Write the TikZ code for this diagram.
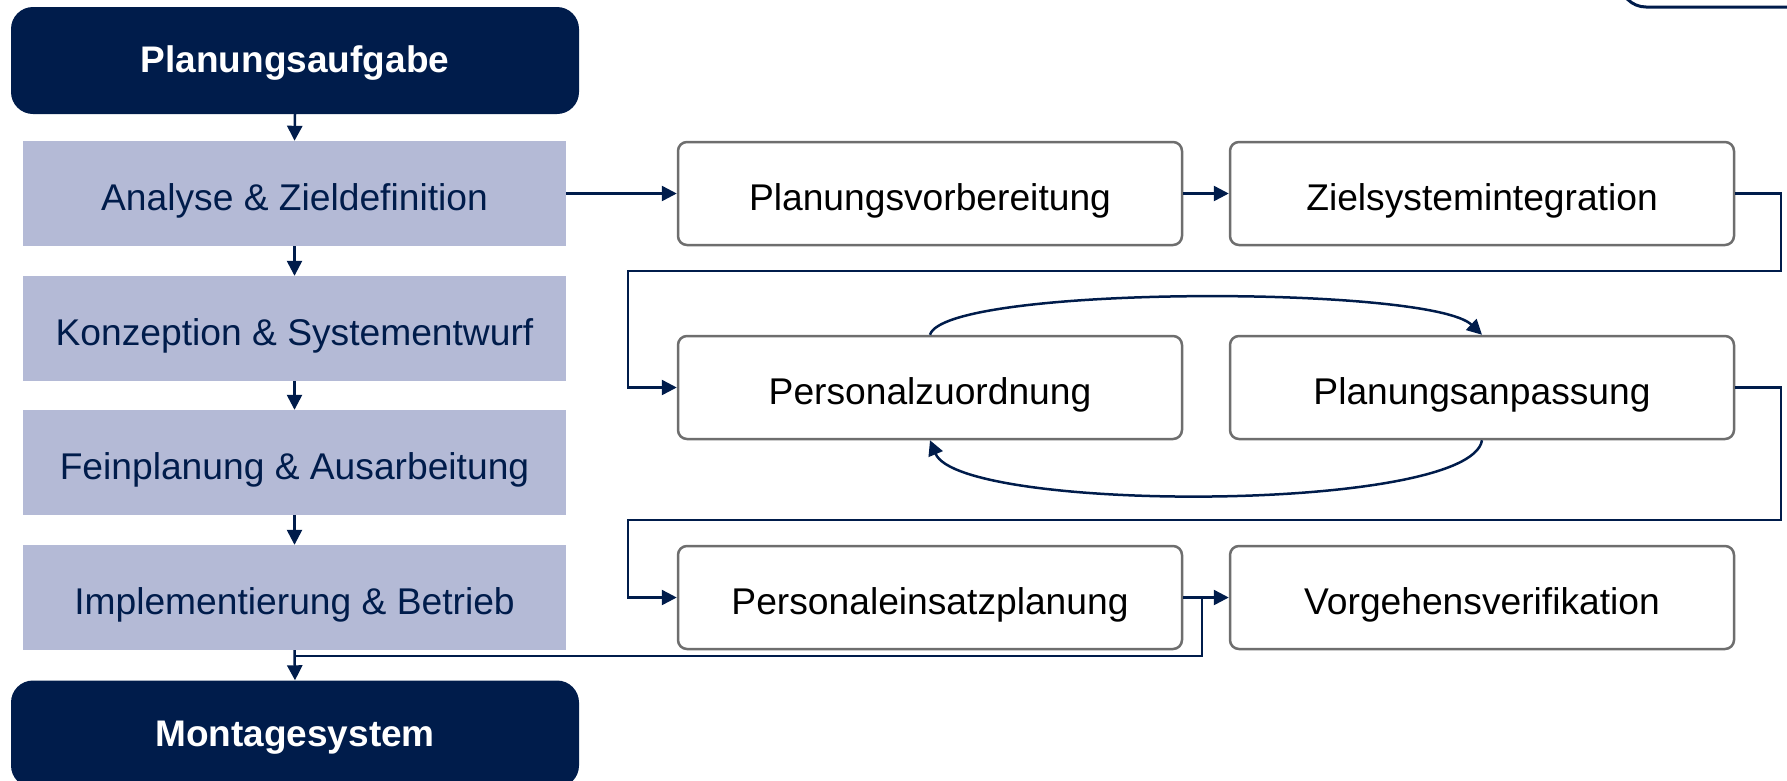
\documentclass[tikz,border=0pt]{standalone}
\usepackage{fontspec}
\setmainfont{Liberation Sans}
\usetikzlibrary{arrows.meta}
\definecolor{navy}{RGB}{0,28,75}
\definecolor{lav}{RGB}{180,186,214}
\definecolor{bordergray}{RGB}{110,110,110}
\tikzset{
  darkbox/.style={fill=navy, rounded corners=22pt, minimum width=568pt, minimum height=107pt, text=white, font=\fontsize{37}{40}\selectfont\bfseries, inner sep=0pt, text height=31pt, text depth=7pt},
  phasebox/.style={fill=lav, minimum width=543pt, minimum height=105pt, text=navy, font=\fontsize{37.2}{40}\selectfont, inner sep=0pt, text height=40.5pt, text depth=7pt},
  stepbox/.style={draw=bordergray, line width=2.5pt, fill=white, rounded corners=9pt, minimum width=504pt, minimum height=103pt, text=black, font=\fontsize{37.2}{40}\selectfont, inner sep=0pt, text height=40.5pt, text depth=7pt},
  conn/.style={draw=navy, line width=2.5pt, -{Triangle[length=15pt,width=15pt]}},
  plain/.style={draw=navy, line width=2.5pt},
}
\begin{document}
\begin{tikzpicture}[x=1pt,y=-1pt]
\useasboundingbox (0,0) rectangle (1787,780);
% partial shape at top right
\draw[navy, line width=3pt, fill=white, rounded corners=26pt] (1620,-60) rectangle (1840,7);

\node[darkbox] (pa) at (295,60.5) {Planungsaufgabe};
\node[phasebox] (ana) at (294.5,193.5) {Analyse \& Zieldefinition};
\node[phasebox] (kon) at (294.5,328.5) {Konzeption \& Systementwurf};
\node[phasebox] (fein) at (294.5,462.5) {Feinplanung \& Ausarbeitung};
\node[phasebox] (impl) at (294.5,597.5) {Implementierung \& Betrieb};
\node[darkbox] (mont) at (295,734) {Montagesystem};

\node[stepbox] (pv) at (930,193.5) {Planungsvorbereitung};
\node[stepbox] (zsi) at (1482,193.5) {Zielsystemintegration};
\node[stepbox] (pz) at (930,387.5) {Personalzuordnung};
\node[stepbox] (pan) at (1482,387.5) {Planungsanpassung};
\node[stepbox] (pe) at (930,597.5) {Personaleinsatzplanung};
\node[stepbox] (vv) at (1482,597.5) {Vorgehensverifikation};

% vertical chain
\draw[conn] (pa.south) -- (ana.north);
\draw[conn] (ana.south) -- (kon.north);
\draw[conn] (kon.south) -- (fein.north);
\draw[conn] (fein.south) -- (impl.north);
\draw[conn] (impl.south) -- (mont.north);

% right flow
\draw[conn] (ana.east) -- (pv.west);
\draw[conn] (pv.east) -- (zsi.west);
\draw[conn] (zsi.east) -- (1781,193.5) -- (1781,271) -- (628,271) |- (pz.west);
\draw[conn] (pan.east) -- (1781,387.5) -- (1781,520) -- (628,520) |- (pe.west);
\draw[conn] (pe.east) -- (vv.west);

% loop between Personalzuordnung and Planungsanpassung
\draw[conn] (pz.north) .. controls (945,285) and (1430,285) .. (pan.north);
\draw[conn] (pan.south) .. controls (1470,513) and (960,513) .. (pz.south);

% feedback to Montagesystem
\coordinate (j1) at (1202,597.5);
\coordinate (j2) at (295,656);
\draw[plain] (j1) |- (j2);
\end{tikzpicture}
\end{document}
